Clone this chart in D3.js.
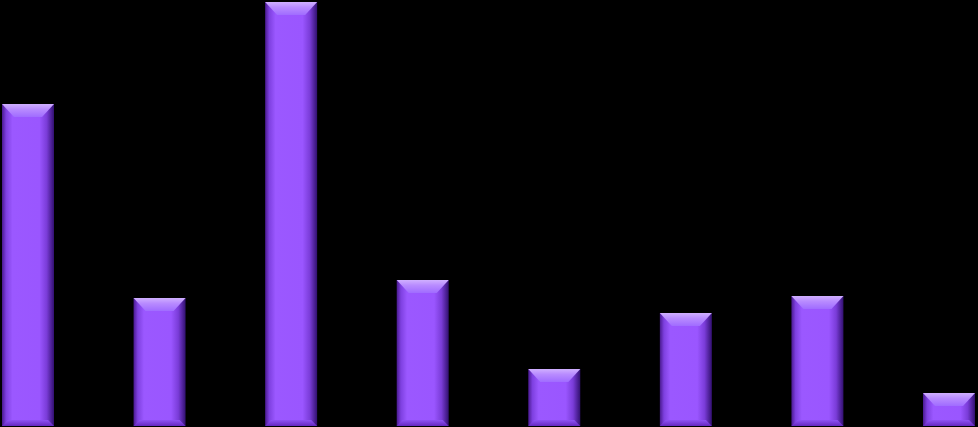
<!DOCTYPE html>
<html><head><meta charset="utf-8">
<script src="https://cdn.jsdelivr.net/npm/d3@7"></script>
<style>html,body{margin:0;padding:0;background:#000;overflow:hidden}</style>
</head><body>
<svg id="c" width="978" height="427"></svg>
<script>
const categories = ["A","B","C","D","E","F","G","H"];
const values = [322, 128, 424, 146, 57, 113, 130, 33];

const W = 978, H = 427;
const svg = d3.select("#c");
svg.append("rect").attr("width", W).attr("height", H).attr("fill", "#000");

const step = 131.57;
const x0 = 28 - step / 2;
const x = d3.scaleBand().domain(categories)
  .range([x0, x0 + step * categories.length])
  .paddingInner(1 - 52 / step).paddingOuter((1 - 52 / step) / 2);
const y = d3.scaleLinear().domain([0, 424]).range([426, 2]);

const defs = svg.append("defs");
const hg = defs.append("linearGradient").attr("id", "face").attr("x1", 0).attr("x2", 1).attr("y1", 0).attr("y2", 0);
[[0, "#4a1a90"], [0.08, "#7e40e0"], [0.2, "#9b58ff"], [0.72, "#9a56ff"], [0.86, "#7a3cd8"], [1, "#321070"]]
  .forEach(([o, c]) => hg.append("stop").attr("offset", o).attr("stop-color", c));
const tg = defs.append("linearGradient").attr("id", "top").attr("x1", 0).attr("x2", 0).attr("y1", 0).attr("y2", 1);
[[0, "#d0b0ff"], [0.4, "#b98cff"], [1, "#a06cff"]]
  .forEach(([o, c]) => tg.append("stop").attr("offset", o).attr("stop-color", c));
const bg = defs.append("linearGradient").attr("id", "bot").attr("x1", 0).attr("x2", 0).attr("y1", 0).attr("y2", 1);
[[0, "#8e52f4"], [1, "#6428c0"]]
  .forEach(([o, c]) => bg.append("stop").attr("offset", o).attr("stop-color", c));

const bars = svg.selectAll("g.bar").data(categories.map((c, i) => ({c, v: values[i]})))
  .join("g").attr("class", "bar");

bars.each(function(d) {
  const g = d3.select(this);
  const bx = x(d.c), bw = x.bandwidth();
  const top = y(d.v), bot = y(0);
  const tb = 13, sb = 12, bb = 6;
  g.append("rect").attr("x", bx).attr("y", top).attr("width", bw).attr("height", bot - top).attr("fill", "url(#face)");
  g.append("polygon").attr("points", [[bx, top], [bx + bw, top], [bx + bw - sb, top + tb], [bx + sb, top + tb]].join(" "))
    .attr("fill", "url(#top)");
  g.append("polygon").attr("points", [[bx + bb, bot - bb], [bx + bw - bb, bot - bb], [bx + bw, bot], [bx, bot]].join(" "))
    .attr("fill", "url(#bot)");
});
</script>
</body></html>
